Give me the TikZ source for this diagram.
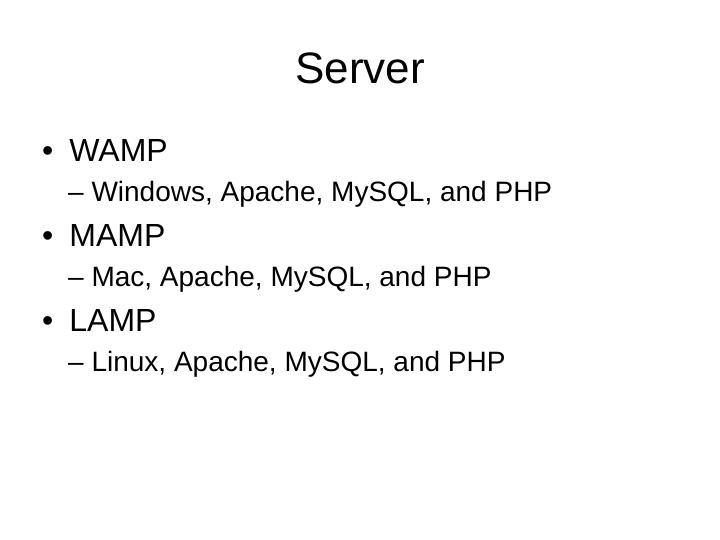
\documentclass[tikz,border=0pt]{standalone}
\usepackage{fontspec}
\setmainfont{Liberation Sans}
\usetikzlibrary{positioning}
\tikzset{
  title/.style={anchor=base, inner sep=0pt, font=\fontsize{44}{50}\selectfont},
  itemone/.style={anchor=base west, inner sep=0pt, font=\fontsize{32}{38}\selectfont},
  itemtwo/.style={anchor=base west, inner sep=0pt, font=\fontsize{28}{34}\selectfont}
}
\begin{document}
\begin{tikzpicture}[x=1pt, y=1pt]
    \useasboundingbox (0,0) rectangle (720,540);

    \node[title] (head) at (360,456) {Server};

    \node[itemone] (wamp) at (42,378) {\textbullet\hspace{16pt}WAMP};
    \node[itemtwo] (wampsub) at (68,338) {\textendash\ Windows, Apache, MySQL, and PHP};

    \node[itemone] (mamp) at (42,293) {\textbullet\hspace{16pt}MAMP};
    \node[itemtwo] (mampsub) at (68,253) {\textendash\ Mac, Apache, MySQL, and PHP};

    \node[itemone] (lamp) at (42,208) {\textbullet\hspace{16pt}LAMP};
    \node[itemtwo] (lampsub) at (68,168) {\textendash\ Linux, Apache, MySQL, and PHP};
\end{tikzpicture}
\end{document}
